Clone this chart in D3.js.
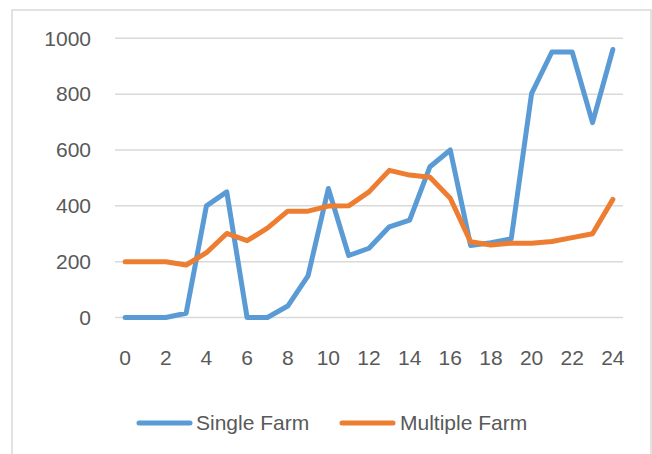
<!DOCTYPE html>
<html>
<head>
<meta charset="utf-8">
<script src="https://cdn.jsdelivr.net/npm/d3@7"></script>
<style>
  html, body { margin: 0; padding: 0; background: #fff; }
  svg { display: block; }
  text { font-family: "Liberation Sans", Arial, sans-serif; fill: #595959; }
</style>
</head>
<body>
<svg id="chart" width="652" height="454"></svg>
<script>
// Hours 0..24 on a category axis
const categories = d3.range(0, 25);
const singleFarm = [0, 0, 0, 15, 400, 450, 0, 0, 41, 149, 462, 222, 248, 325, 349, 540, 600, 258, 268, 282, 802, 951, 951, 698, 960];
const multipleFarm = [200, 200, 200, 188, 232, 301, 275, 320, 381, 381, 399, 400, 450, 527, 510, 502, 427, 271, 260, 266, 266, 272, 286, 300, 423];
const yTicks = [0, 200, 400, 600, 800, 1000];
const xTickLabels = categories.filter(d => d % 2 === 0);

const series = [
  { name: "Single Farm", values: singleFarm, color: "#5B9BD5" },
  { name: "Multiple Farm", values: multipleFarm, color: "#ED7D31" }
];

const svg = d3.select("#chart");

// Outer chart frame
svg.append("rect")
  .attr("x", 12).attr("y", 10)
  .attr("width", 639).attr("height", 460)
  .attr("fill", "none")
  .attr("stroke", "#D9D9D9")
  .attr("stroke-width", 1.5);

const plot = { left: 115, right: 623, top: 38.3, bottom: 317.5 };

const x = d3.scaleBand()
  .domain(categories)
  .range([plot.left, plot.right]);

const xc = d => x(d) + x.bandwidth() / 2;

const y = d3.scaleLinear()
  .domain([0, 1000])
  .range([plot.bottom, plot.top]);

// Horizontal gridlines
svg.append("g")
  .selectAll("line")
  .data(yTicks)
  .join("line")
  .attr("x1", plot.left).attr("x2", plot.right)
  .attr("y1", d => y(d)).attr("y2", d => y(d))
  .attr("stroke", "#D9D9D9")
  .attr("stroke-width", 1.5);

// Y axis labels
const yAxis = d3.axisLeft(y).tickValues(yTicks).tickFormat(d3.format("d")).tickSize(0).tickPadding(0);
svg.append("g")
  .attr("transform", `translate(${plot.left - 24},0)`)
  .call(yAxis)
  .call(g => g.select(".domain").remove())
  .call(g => g.selectAll("text")
    .attr("font-size", 21)
    .attr("fill", "#595959")
    .attr("font-family", "Liberation Sans, Arial, sans-serif"));

// X axis labels (every other hour)
const xAxis = d3.axisBottom(x).tickValues(xTickLabels).tickSize(0).tickPadding(0);
svg.append("g")
  .attr("transform", `translate(0,358)`)
  .call(xAxis)
  .call(g => g.select(".domain").remove())
  .call(g => g.selectAll("text")
    .attr("y", 0)
    .attr("dy", "0.35em")
    .attr("font-size", 21)
    .attr("fill", "#595959")
    .attr("font-family", "Liberation Sans, Arial, sans-serif"));

// Series lines
const line = d3.line()
  .x((d, i) => xc(categories[i]))
  .y(d => y(d));

svg.append("g")
  .selectAll("path")
  .data(series)
  .join("path")
  .attr("d", d => line(d.values))
  .attr("fill", "none")
  .attr("stroke", d => d.color)
  .attr("stroke-width", 5)
  .attr("stroke-linejoin", "round")
  .attr("stroke-linecap", "round");

// Legend
const legendItems = [
  { s: series[0], x0: 139, x1: 190, tx: 196 },
  { s: series[1], x0: 342, x1: 393, tx: 400 }
];
const legendY = 423;
const lg = svg.append("g");
legendItems.forEach(it => {
  lg.append("line")
    .attr("x1", it.x0).attr("x2", it.x1)
    .attr("y1", legendY).attr("y2", legendY)
    .attr("stroke", it.s.color)
    .attr("stroke-width", 5)
    .attr("stroke-linecap", "round");
  lg.append("text")
    .attr("x", it.tx).attr("y", legendY)
    .attr("dy", "0.35em")
    .attr("font-size", 21)
    .text(it.s.name);
});
</script>
</body>
</html>
